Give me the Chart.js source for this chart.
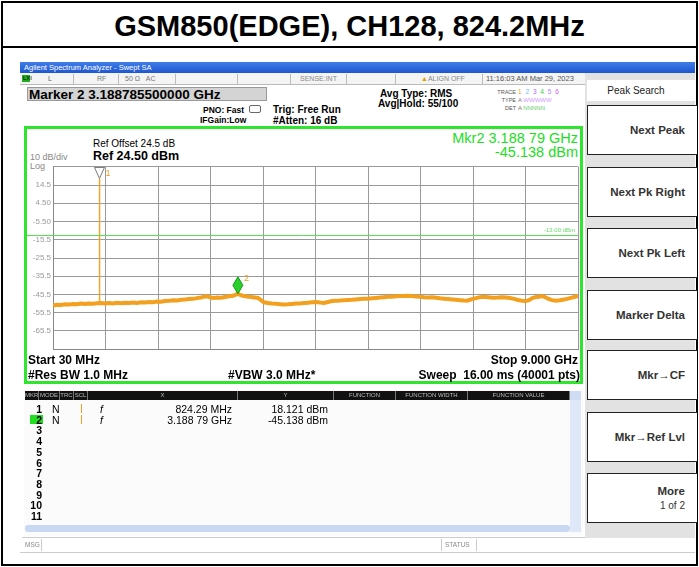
<!DOCTYPE html>
<html><head><meta charset="utf-8">
<script src="https://cdn.jsdelivr.net/npm/chart.js@4.4.1/dist/chart.umd.min.js"></script>
<style>
html,body{margin:0;padding:0;}
body{width:699px;height:567px;background:#fff;position:relative;overflow:hidden;font-family:"Liberation Sans",Arial,sans-serif;color:#000;}
.a{position:absolute;white-space:nowrap;line-height:1;}
.b{font-weight:bold;}
.r{text-align:right;}
.btn{position:absolute;left:587px;width:110px;height:50px;background:#fff;border:1px solid #222;border-right:none;box-sizing:border-box;}
.btn .lbl{position:absolute;right:12px;top:50%;transform:translateY(-50%);font-weight:bold;font-size:11.5px;color:#333;white-space:nowrap;text-align:right;line-height:1.3;}
.btn .sub{font-weight:normal;font-size:10px;}
.hd{position:absolute;top:391px;height:9px;background:#111;color:#bbb;font-size:6px;line-height:9px;text-align:center;border-right:1px solid #777;box-sizing:border-box;}
.row{position:absolute;font-size:10.5px;line-height:1;}
</style></head><body>

<!-- outer frame and title -->
<div class="a" style="left:1px;top:1px;width:693px;height:561px;border:2px solid #000;"></div>
<div class="a" style="left:1px;top:46px;width:697px;height:2px;background:#000;"></div>
<div class="a b" id="title" style="left:0;top:12px;width:699px;text-align:center;font-size:29px;font-family:'Liberation Sans Narrow','Liberation Sans',Arial,sans-serif;">GSM850(EDGE), CH128, 824.2MHz</div>

<!-- analyzer window title bar -->
<div class="a" style="left:20px;top:62px;width:675px;height:11px;background:linear-gradient(#3f7ee8,#1f56cf);"></div>
<div class="a" style="left:24px;top:64px;font-size:7.5px;color:#fff;">Agilent Spectrum Analyzer - Swept SA</div>

<!-- status row -->
<div class="a" style="left:20px;top:73px;width:565px;height:11px;background:#f4f4f4;border-bottom:1px solid #bbb;"></div>
<div class="a" style="left:22px;top:75px;width:8px;height:7px;background:#2a2;"></div>
<div class="a" style="left:23px;top:75px;font-size:6px;color:#000;">LXI</div>
<div class="a" style="left:48px;top:75px;font-size:7px;color:#666;">L</div>
<div class="a" style="left:73px;top:74px;width:1px;height:10px;background:#bbb;"></div>
<div class="a" style="left:97px;top:75px;font-size:7px;color:#777;">RF</div>
<div class="a" style="left:118px;top:74px;width:1px;height:10px;background:#bbb;"></div>
<div class="a" style="left:125px;top:75px;font-size:7px;color:#777;">50 Ω&nbsp;&nbsp;&nbsp;AC</div>
<div class="a" style="left:175px;top:74px;width:1px;height:10px;background:#bbb;"></div>
<div class="a" style="left:237px;top:74px;width:1px;height:10px;background:#bbb;"></div>
<div class="a" style="left:290px;top:74px;width:1px;height:10px;background:#bbb;"></div>
<div class="a" style="left:300px;top:75px;font-size:7px;color:#888;">SENSE:INT</div>
<div class="a" style="left:346px;top:74px;width:1px;height:10px;background:#bbb;"></div>
<div class="a" style="left:395px;top:74px;width:1px;height:10px;background:#bbb;"></div>
<div class="a" style="left:421px;top:75px;font-size:7px;color:#888;"><span style="color:#d9a300;">▲</span>ALIGN OFF</div>
<div class="a" style="left:482px;top:74px;width:1px;height:10px;background:#bbb;"></div>
<div class="a" style="left:486px;top:75px;font-size:7.5px;color:#555;">11:16:03 AM Mar 29, 2023</div>

<!-- settings header -->
<div class="a" style="left:27px;top:87px;width:240px;height:14px;background:#d4d4d4;border:1px solid #999;box-sizing:border-box;"></div>
<div class="a b" style="left:29px;top:88px;font-size:13.5px;">Marker 2 3.188785500000 GHz</div>
<div class="a b" style="left:203px;top:106px;font-size:8.5px;">PNO: Fast</div>
<div class="a" style="left:249px;top:105px;width:10px;height:6px;border:1px solid #666;border-radius:2px;"></div>
<div class="a b" style="left:200px;top:116px;font-size:8.5px;">IFGain:Low</div>
<div class="a b" style="left:273px;top:105px;font-size:10px;">Trig: Free Run</div>
<div class="a b" style="left:273px;top:116px;font-size:10px;">#Atten: 16 dB</div>
<div class="a b" style="left:380px;top:89px;font-size:10px;">Avg Type: RMS</div>
<div class="a b" style="left:378px;top:99px;font-size:10px;">Avg|Hold: 55/100</div>
<div class="a r" style="left:470px;width:46px;top:90px;font-size:5.5px;color:#555;">TRACE</div>
<div class="a r" style="left:470px;width:46px;top:98px;font-size:5.5px;color:#555;">TYPE</div>
<div class="a r" style="left:470px;width:46px;top:106px;font-size:5.5px;color:#555;">DET</div>
<div class="a" style="left:518px;top:89px;font-size:6.5px;letter-spacing:1px;"><span style="color:#f0a020">1</span> <span style="color:#6bf">2</span> <span style="color:#a6f">3</span> <span style="color:#3c3">4</span> <span style="color:#a8f">5</span> <span style="color:#c6e">6</span></div>
<div class="a" style="left:518px;top:97px;font-size:6px;color:#777;">A <span style="color:#c9f">WWWWW</span></div>
<div class="a" style="left:518px;top:105px;font-size:6px;color:#777;">A <span style="color:#6c6">NNNNN</span></div>

<!-- green display box -->
<div class="a" style="left:24px;top:126px;width:559px;height:258px;border:3px solid #2ee62e;box-sizing:border-box;"></div>
<div class="a r" style="left:400px;width:178px;top:131px;font-size:14.5px;color:#22dd22;">Mkr2 3.188 79 GHz</div>
<div class="a r" style="left:400px;width:178px;top:145px;font-size:14.5px;color:#22dd22;">-45.138 dBm</div>
<div class="a" style="left:93px;top:139px;font-size:10px;">Ref Offset 24.5 dB</div>
<div class="a b" style="left:93px;top:150px;font-size:12.5px;">Ref 24.50 dBm</div>
<div class="a" style="left:30px;top:153px;font-size:9px;color:#888;">10 dB/div</div>
<div class="a" style="left:30px;top:162px;font-size:9px;color:#888;">Log</div>

<div class="a" style="left:25px;top:160px;width:556px;height:196px;">
  <canvas id="c" width="556" height="196" style="width:556px;height:196px;"></canvas>
</div>

<div class="a b" style="left:28px;top:354px;font-size:12px;">Start 30 MHz</div>
<div class="a b r" style="left:400px;width:178px;top:354px;font-size:12px;">Stop 9.000 GHz</div>
<div class="a b" style="left:28px;top:369px;font-size:12px;">#Res BW 1.0 MHz</div>
<div class="a b" style="left:228px;top:369px;font-size:12px;">#VBW 3.0 MHz*</div>
<div class="a b r" style="left:380px;width:200px;top:369px;font-size:12px;">Sweep&nbsp;&nbsp;16.00 ms (40001 pts)</div>

<!-- marker table -->
<div class="a" style="left:24px;top:390px;width:559px;height:146px;background:#fbfbfb;"></div>
<div class="hd" style="left:25px;width:14px;">MKR</div>
<div class="hd" style="left:39px;width:21px;">MODE</div>
<div class="hd" style="left:60px;width:14px;">TRC</div>
<div class="hd" style="left:74px;width:14px;">SCL</div>
<div class="hd" style="left:88px;width:150px;">X</div>
<div class="hd" style="left:238px;width:96px;">Y</div>
<div class="hd" style="left:334px;width:62px;">FUNCTION</div>
<div class="hd" style="left:396px;width:72px;">FUNCTION WIDTH</div>
<div class="hd" style="left:468px;width:102px;">FUNCTION VALUE</div>
<div class="a" style="left:570px;top:391px;width:11px;height:141px;background:#dfe8f8;"></div>
<div class="a" style="left:570px;top:391px;width:11px;height:9px;background:#cfdcf4;"></div>
<div class="a" style="left:25px;top:525px;width:545px;height:7px;background:#c9d9f4;border-radius:3px;"></div>
<div id="rows"></div>

<!-- message bar -->
<div class="a" style="left:22px;top:537px;width:564px;height:1px;background:#ccc;"></div>
<div class="a" style="left:25px;top:542px;font-size:6.5px;color:#888;">MSG</div>
<div class="a" style="left:41px;top:539px;width:1px;height:12px;background:#ccc;"></div>
<div class="a" style="left:441px;top:539px;width:1px;height:12px;background:#ccc;"></div>
<div class="a" style="left:445px;top:542px;font-size:6.5px;color:#888;">STATUS</div>
<div class="a" style="left:476px;top:539px;width:1px;height:12px;background:#ccc;"></div>
<div class="a" style="left:20px;top:552px;width:675px;height:1px;background:#ccc;"></div>

<!-- right soft-key panel -->
<div class="a" style="left:585px;top:73px;width:110px;height:465px;background:#e2e2e2;"></div>
<div class="a" style="left:587px;top:80px;width:108px;height:21px;background:#fff;"></div>
<div class="a" style="left:587px;top:86px;width:98px;text-align:center;font-size:10px;color:#222;">Peak Search</div>
<div id="keys"></div>

<script>
// ---- data ----
const startMHz = 30;
const stopMHz = 9000;
const refLevelDbm = 24.5;
const bottomLevelDbm = -75.5;
const xGridMHz = [30, 927, 1824, 2721, 3618, 4515, 5412, 6309, 7206, 8103, 9000];
const yGridDbm = [24.5, 14.5, 4.5, -5.5, -15.5, -25.5, -35.5, -45.5, -55.5, -65.5, -75.5];
const yTickLabels = ['', '14.5', '4.50', '-5.50', '-15.5', '-25.5', '-35.5', '-45.5', '-55.5', '-65.5', ''];
const displayLineDbm = -13;
const displayLineLabel = '-13.00 dBm';

const traceFreqMHz = [30,98,167,235,303,372,440,508,577,645,713,782,850,918,987,1055,1123,1192,1260,1329,1397,1465,1534,1602,1670,1739,1807,1875,1944,2012,2080,2149,2217,2285,2354,2422,2490,2559,2610,2661,2712,2764,2832,2900,2968,3037,3105,3156,3188.79,3225,3276,3344,3413,3481,3532,3584,3635,3703,3771,3840,3908,3976,4045,4113,4181,4250,4318,4386,4455,4523,4592,4660,4728,4797,4865,4933,5002,5070,5138,5207,5275,5343,5412,5480,5548,5617,5685,5754,5822,5890,5959,6027,6095,6164,6232,6300,6369,6437,6505,6574,6642,6710,6779,6847,6915,6984,7052,7103,7155,7223,7291,7360,7428,7496,7565,7633,7701,7770,7838,7906,7975,8043,8111,8162,8214,8265,8333,8384,8436,8487,8555,8624,8692,8760,8829,8897,8965,9000];
const traceLevelDbm = [-51.6,-51.1,-51.3,-50.9,-51.0,-50.7,-50.9,-50.5,-50.7,-50.4,-50.6,-50.3,-50.2,-50.5,-50.2,-50.4,-50.1,-50.3,-50.0,-50.2,-49.9,-50.1,-49.8,-49.9,-49.6,-49.7,-49.4,-49.5,-49.1,-49.0,-48.7,-48.8,-48.4,-48.3,-48.0,-47.9,-47.5,-47.2,-46.7,-46.5,-47.0,-47.4,-47.2,-47.3,-46.9,-46.5,-46.2,-45.6,-45.138,-45.7,-46.2,-46.6,-46.9,-47.2,-47.4,-48.6,-49.8,-50.2,-50.5,-50.6,-50.8,-51.0,-50.9,-50.7,-50.5,-50.4,-50.2,-50.0,-49.8,-49.6,-49.9,-50.1,-49.6,-49.1,-48.9,-48.8,-48.6,-48.5,-48.4,-48.2,-48.0,-47.9,-47.8,-47.6,-47.4,-47.2,-47.0,-46.8,-46.7,-46.5,-46.4,-46.3,-46.2,-46.4,-46.6,-46.8,-47.0,-47.1,-47.0,-47.3,-47.6,-47.8,-48.0,-48.2,-48.4,-48.6,-48.8,-48.9,-48.4,-47.8,-47.2,-46.8,-46.9,-47.1,-47.3,-47.2,-47.0,-47.1,-47.4,-47.9,-48.5,-48.9,-49.1,-48.6,-47.6,-47.0,-46.8,-46.4,-46.9,-47.8,-48.6,-48.9,-48.7,-48.3,-47.8,-47.2,-46.6,-46.3];

// carrier spike at marker 1
const spikeFreqMHz = [821.5, 824.29, 827];
const spikeLevelDbm = [-50.3, 18.121, -50.2];

const markerNames = ['1', '2'];
const markerFreqMHz = [824.29, 3188.79];
const markerLevelDbm = [18.121, -45.138];

// marker table
const tableRowNumbers = ['1','2','3','4','5','6','7','8','9','10','11'];
const tableMode = ['N', 'N'];
const tableScl = ['f', 'f'];
const tableX = ['824.29 MHz', '3.188 79 GHz'];
const tableY = ['18.121 dBm', '-45.138 dBm'];

// soft keys
const softKeys = ['Next Peak', 'Next Pk Right', 'Next Pk Left', 'Marker Delta', 'Mkr\u2192CF', 'Mkr\u2192Ref Lvl', 'More'];
const softKeySubs = ['', '', '', '', '', '', '1 of 2'];

// ---- build table rows & keys ----
(function(){
  const rows = document.getElementById('rows');
  let html = '';
  tableRowNumbers.forEach((n, i) => {
    const y = 404 + i * 10.7;
    if (i === 1) html += `<div class="a" style="left:30px;top:${y}px;width:13px;height:9px;background:#22dd22;"></div>`;
    html += `<div class="a b r row" style="left:25px;width:17px;top:${y}px;">${n}</div>`;
    if (i < tableMode.length) {
      html += `<div class="a row" style="left:52px;top:${y}px;">${tableMode[i]}</div>`;
      html += `<div class="a" style="left:81px;top:${y}px;width:1px;height:9px;background:#f0a020;"></div>`;
      html += `<div class="a row" style="left:100px;top:${y}px;font-style:italic;">${tableScl[i]}</div>`;
      html += `<div class="a row r" style="left:130px;width:102px;top:${y}px;">${tableX[i]}</div>`;
      html += `<div class="a row r" style="left:230px;width:98px;top:${y}px;">${tableY[i]}</div>`;
    }
  });
  rows.innerHTML = html;
  const keyTops = [105, 167, 228, 290, 350, 412, 473];
  let kh = '';
  softKeys.forEach((k, i) => {
    const sub = softKeySubs[i] ? `<div class="sub">${softKeySubs[i]}</div>` : '';
    kh += `<div class="btn" style="top:${keyTops[i]}px;"><div class="lbl">${k}${sub}</div></div>`;
  });
  document.getElementById('keys').innerHTML = kh;
})();

// ---- chart ----
const overlay = {
  id: 'overlay',
  afterDatasetsDraw(chart) {
    const ctx = chart.ctx, xs = chart.scales.x, ys = chart.scales.y, ca = chart.chartArea;
    ctx.save();
    // display line
    const yl = Math.round(ys.getPixelForValue(displayLineDbm)) + 0.5;
    ctx.strokeStyle = '#55e055'; ctx.lineWidth = 1;
    ctx.beginPath(); ctx.moveTo(2, yl); ctx.lineTo(ca.right, yl); ctx.stroke();
    ctx.fillStyle = '#66dd66'; ctx.font = '6px "Liberation Sans", Arial'; ctx.textAlign = 'right'; ctx.textBaseline = 'bottom';
    ctx.fillText(displayLineLabel, ca.right - 3, yl - 2);
    // marker 1 triangle
    const m1x = xs.getPixelForValue(markerFreqMHz[0]), m1y = ys.getPixelForValue(markerLevelDbm[0]);
    ctx.beginPath(); ctx.moveTo(m1x, m1y); ctx.lineTo(m1x - 5, m1y - 11); ctx.lineTo(m1x + 5, m1y - 11); ctx.closePath();
    ctx.fillStyle = '#fff'; ctx.fill(); ctx.strokeStyle = '#777'; ctx.lineWidth = 1; ctx.stroke();
    ctx.fillStyle = '#f0a020'; ctx.font = '9px "Liberation Sans", Arial'; ctx.textAlign = 'left'; ctx.textBaseline = 'top';
    ctx.fillText(markerNames[0], m1x + 6, m1y - 9);
    // marker 2 diamond
    const m2x = xs.getPixelForValue(markerFreqMHz[1]), m2y = ys.getPixelForValue(markerLevelDbm[1]);
    ctx.beginPath(); ctx.moveTo(m2x, m2y); ctx.lineTo(m2x - 5, m2y - 8.5); ctx.lineTo(m2x, m2y - 17); ctx.lineTo(m2x + 5, m2y - 8.5); ctx.closePath();
    ctx.fillStyle = '#2bcf2b'; ctx.fill(); ctx.strokeStyle = '#1a9a1a'; ctx.stroke();
    ctx.fillStyle = '#f0a020'; ctx.font = '9px "Liberation Sans", Arial';
    ctx.fillText(markerNames[1], m2x + 6, m2y - 20);
    ctx.restore();
  }
};

new Chart(document.getElementById('c'), {
  type: 'line',
  data: {
    datasets: [
      {
        data: spikeFreqMHz.map((f, i) => ({x: f, y: spikeLevelDbm[i]})),
        borderColor: '#f3a52a', borderWidth: 1.5, pointRadius: 0, tension: 0
      },
      {
        data: traceFreqMHz.map((f, i) => ({x: f, y: traceLevelDbm[i]})),
        borderColor: '#f2a01e', borderWidth: 4, pointRadius: 0, tension: 0
      }
    ]
  },
  options: {
    responsive: false,
    animation: false,
    devicePixelRatio: 1,
    layout: {padding: {left: 0, right: 3, top: 4, bottom: 4}},
    plugins: {legend: {display: false}, tooltip: {enabled: false}},
    scales: {
      x: {
        type: 'linear', min: startMHz, max: stopMHz,
        afterBuildTicks: s => { s.ticks = xGridMHz.map(v => ({value: v})); },
        afterFit: s => { s.height = 0; },
        ticks: {display: false},
        grid: {color: '#9a9a9a', lineWidth: 1, drawTicks: false},
        border: {display: true, color: '#888'}
      },
      y: {
        min: bottomLevelDbm, max: refLevelDbm,
        afterBuildTicks: s => { s.ticks = yGridDbm.map(v => ({value: v})); },
        afterFit: s => { s.width = 28; },
        ticks: {
          padding: 2, color: '#9a9a9a', font: {size: 8, family: '"Liberation Sans", Arial'},
          callback: (v, i) => yTickLabels[i]
        },
        grid: {color: '#9a9a9a', lineWidth: 1, drawTicks: false},
        border: {display: true, color: '#888'}
      }
    }
  },
  plugins: [overlay]
});
</script>
</body></html>
